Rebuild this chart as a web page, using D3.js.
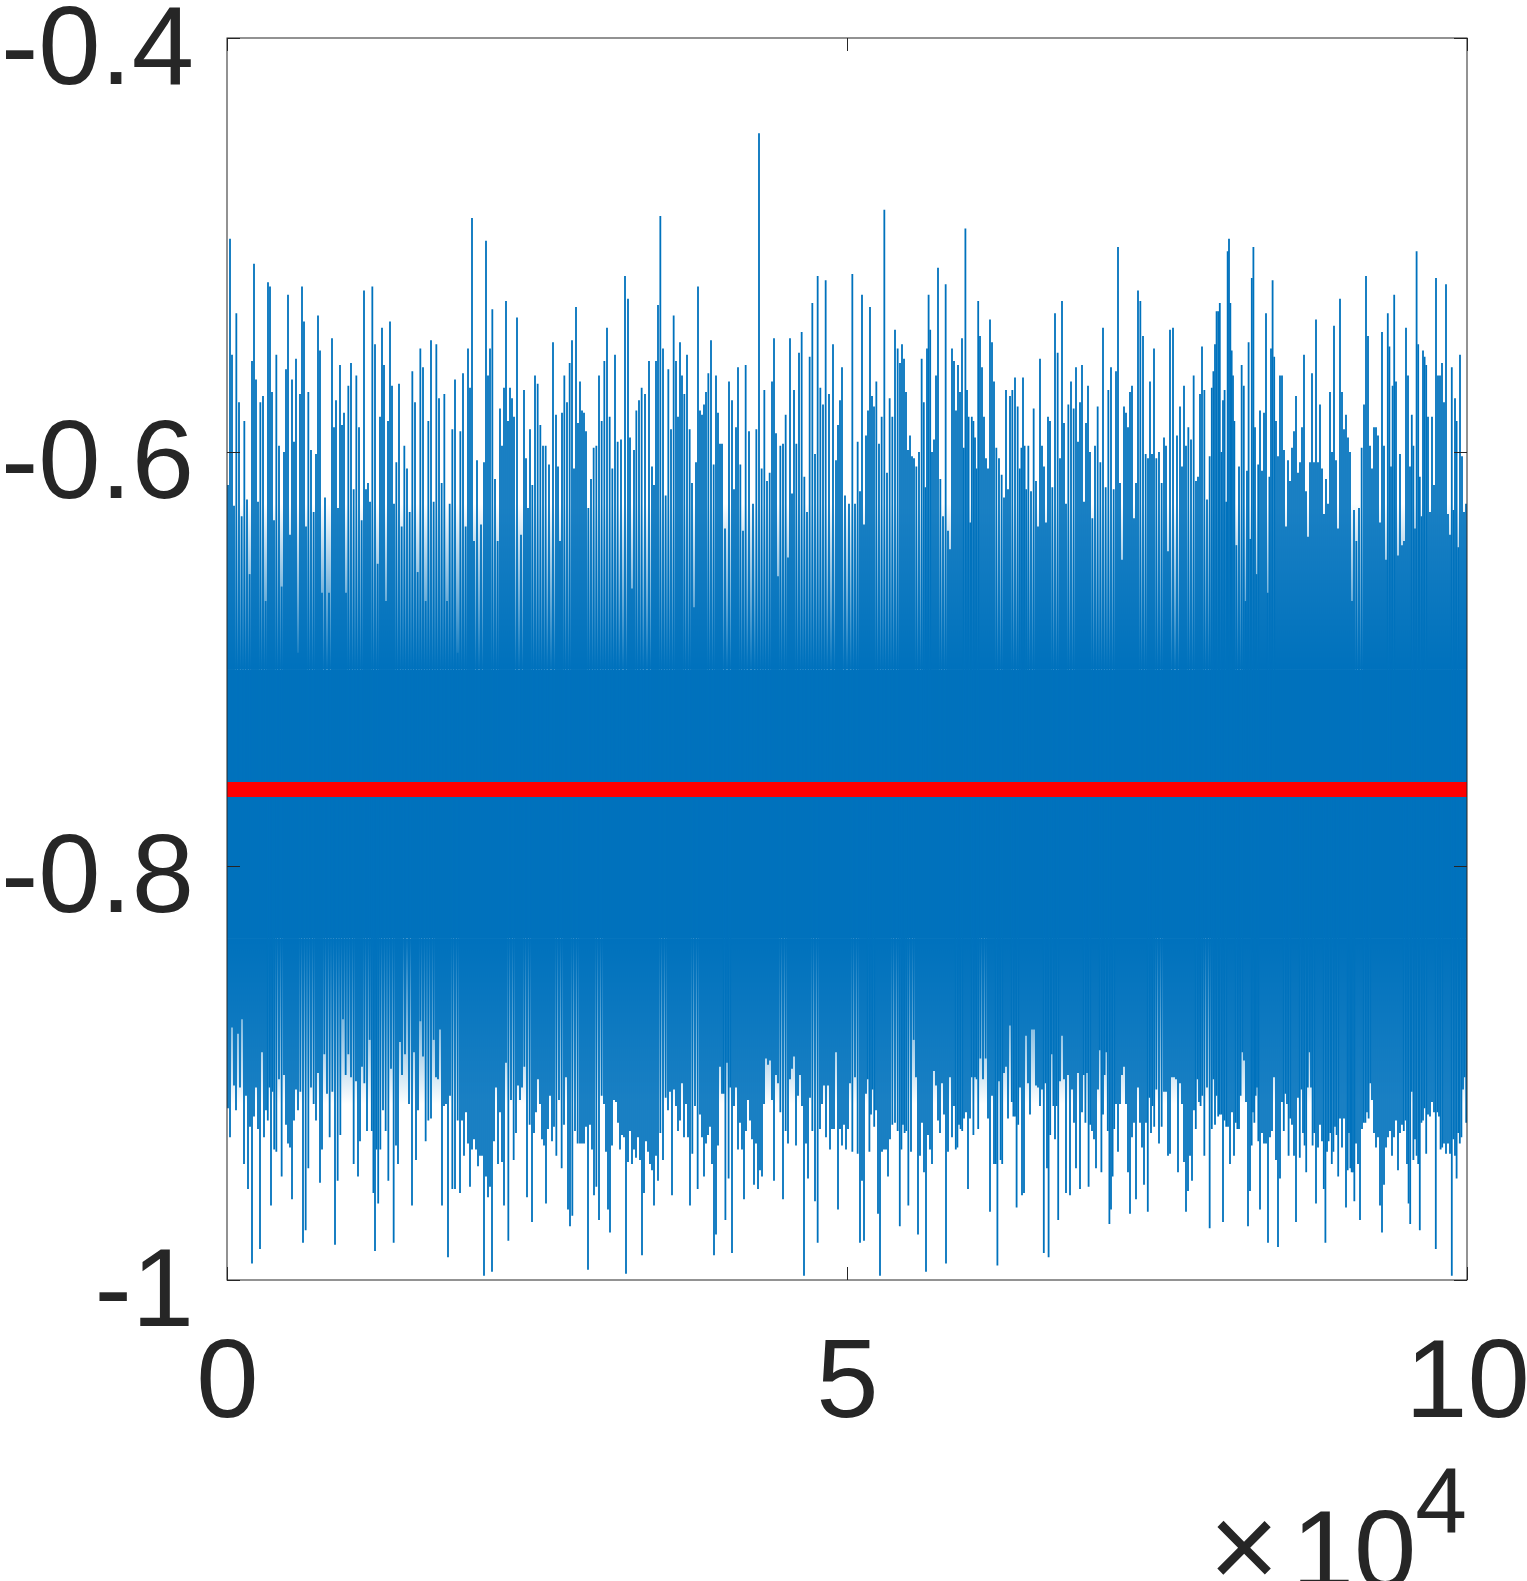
<!DOCTYPE html>
<html>
<head>
<meta charset="utf-8">
<script src="https://cdn.jsdelivr.net/npm/d3@7"></script>
<style>
  html, body { margin: 0; padding: 0; background: #ffffff; }
  svg { display: block; }
</style>
</head>
<body>
<svg id="chart" width="1527" height="1581"></svg>
<script>
// ---------------- data ----------------
// x axis in units of 1e4 samples
const xTicks = [0, 5, 10];
const xTickLabels = ["0", "5", "10"];
const yTicks = [-1, -0.8, -0.6, -0.4];
const yTickLabels = ["-1", "-0.8", "-0.6", "-0.4"];
const xDomain = [0, 10];
const yDomain = [-1, -0.4];
const exponentBase = "10";
const exponentPower = "4";

// upward excursions of the trace, grouped in 155 equal-width bins along x
const upperSpikes = [
[-0.616,-0.497,-0.553,-0.626],[-0.533,-0.576,-0.631],[-0.585,-0.623,-0.659],[-0.556,-0.509,-0.565,-0.624],[-0.576,-0.573,-0.672],
[-0.518,-0.520,-0.571,-0.633],[-0.553,-0.597,-0.665],[-0.600,-0.560,-0.524,-0.640],[-0.565,-0.595,-0.555,-0.697],[-0.572,-0.520,-0.537,-0.636],
[-0.571,-0.599,-0.629],[-0.601,-0.534,-0.551,-0.668],[-0.622,-0.668],[-0.545,-0.588,-0.575,-0.627],[-0.558,-0.587,-0.581,-0.668],
[-0.568,-0.557,-0.618],[-0.563,-0.588,-0.633],[-0.522,-0.618,-0.615,-0.624],[-0.520,-0.548,-0.654],[-0.583,-0.540,-0.558,-0.672],
[-0.585,-0.537,-0.568,-0.625],[-0.605,-0.567,-0.636],[-0.597,-0.608,-0.629],[-0.561,-0.576,-0.658],[-0.550,-0.559,-0.672],
[-0.585,-0.546,-0.624],[-0.548,-0.574,-0.615],[-0.572,-0.672,-0.625],[-0.589,-0.565,-0.697],[-0.590,-0.562,-0.636],
[-0.550,-0.569,-0.487,-0.643],[-0.604,-0.635],[-0.605,-0.498,-0.563,-0.550],[-0.531,-0.613,-0.643],[-0.579,-0.597,-0.569,-0.527],
[-0.585,-0.569,-0.574,-0.583],[-0.535,-0.640],[-0.570,-0.603,-0.627,-0.589],[-0.616,-0.563,-0.567],[-0.587,-0.597,-0.597],
[-0.606,-0.547],[-0.582,-0.607,-0.643,-0.581],[-0.563,-0.576,-0.557],[-0.546,-0.608,-0.530,-0.586],[-0.566,-0.580,-0.581,-0.590],
[-0.627,-0.613,-0.598],[-0.597,-0.563,-0.585],[-0.556,-0.540,-0.583],[-0.608,-0.553,-0.595],[-0.594,-0.515],
[-0.526,-0.593,-0.666,-0.599],[-0.580,-0.575,-0.569],[-0.572,-0.556],[-0.607,-0.616,-0.556,-0.529],[-0.486,-0.550,-0.621],
[-0.560,-0.589,-0.534],[-0.556,-0.583,-0.547,-0.563],[-0.572,-0.553,-0.589],[-0.615,-0.675,-0.605,-0.520],[-0.580,-0.582,-0.577,-0.571],
[-0.562,-0.546,-0.606],[-0.563,-0.581,-0.596,-0.596],[-0.637,-0.566],[-0.575,-0.618,-0.588,-0.559],[-0.606,-0.638,-0.558],
[-0.590,-0.625],[-0.589,-0.446,-0.608],[-0.570,-0.614,-0.610],[-0.566,-0.545,-0.591,-0.660],[-0.597,-0.596,-0.582],
[-0.651,-0.545,-0.620,-0.570],[-0.596,-0.552,-0.542],[-0.612,-0.629,-0.554],[-0.528,-0.601,-0.515],[-0.569,-0.577,-0.517],
[-0.572,-0.548],[-0.604,-0.587,-0.575,-0.559],[-0.621,-0.625],[-0.514,-0.625,-0.595],[-0.619,-0.524,-0.635,-0.592],
[-0.580,-0.530,-0.573,-0.578],[-0.566,-0.596,-0.583],[-0.483,-0.610,-0.574],[-0.583,-0.541,-0.550],[-0.557,-0.548,-0.555,-0.571],
[-0.599,-0.592,-0.602,-0.603],[-0.607,-0.600,-0.555],[-0.576,-0.617,-0.550,-0.524,-0.541],[-0.600,-0.594,-0.563,-0.511],[-0.613,-0.631,-0.519],
[-0.638,-0.647,-0.550,-0.556],[-0.580,-0.558,-0.571,-0.545],[-0.598,-0.492,-0.570,-0.583,-0.634],[-0.583,-0.585,-0.593,-0.608,-0.527],[-0.544,-0.559,-0.583,-0.603],
[-0.608,-0.536,-0.547,-0.566],[-0.598,-0.603,-0.611],[-0.622,-0.570,-0.618,-0.573],[-0.570,-0.564,-0.578],[-0.608,-0.598,-0.564,-0.597,-0.618],
[-0.597,-0.619,-0.579],[-0.614,-0.636,-0.555,-0.597],[-0.607,-0.634,-0.583,-0.585],[-0.617,-0.533,-0.552],[-0.603,-0.527,-0.586,-0.625],
[-0.577,-0.566,-0.579],[-0.559,-0.595,-0.576,-0.558],[-0.624,-0.586,-0.568,-0.600],[-0.632,-0.597,-0.578],[-0.605,-0.540,-0.617],
[-0.570,-0.559,-0.618],[-0.561,-0.501,-0.615,-0.652],[-0.578,-0.581,-0.588,-0.571],[-0.568,-0.632,-0.615,-0.522],[-0.527,-0.544,-0.601],
[-0.603,-0.566,-0.601,-0.550],[-0.603,-0.600,-0.615],[-0.593,-0.597,-0.648,-0.541],[-0.540,-0.592],[-0.578,-0.607,-0.568,-0.597],
[-0.588,-0.594,-0.563],[-0.614,-0.612,-0.572,-0.549],[-0.570,-0.623,-0.602],[-0.569,-0.561,-0.548,-0.532,-0.532],[-0.528,-0.600,-0.575,-0.570,-0.624],
[-0.503,-0.497,-0.528,-0.551,-0.563,-0.585],[-0.645,-0.607,-0.558],[-0.568,-0.672,-0.609,-0.547,-0.642],[-0.516,-0.501,-0.588,-0.659,-0.606],[-0.580,-0.609,-0.581,-0.533],
[-0.668,-0.612,-0.550,-0.517,-0.554],[-0.585,-0.602,-0.563,-0.563],[-0.599,-0.636,-0.604,-0.614],[-0.598,-0.590,-0.573,-0.610],[-0.605,-0.588,-0.553,-0.619],
[-0.641,-0.605,-0.562,-0.605],[-0.536,-0.605,-0.577,-0.608],[-0.630,-0.613,-0.625,-0.571],[-0.600,-0.539,-0.604,-0.637],[-0.526,-0.571,-0.589,-0.582],
[-0.593,-0.600,-0.672,-0.628],[-0.643,-0.627,-0.598],[-0.577,-0.515,-0.544,-0.597],[-0.608,-0.588,-0.588,-0.592],[-0.634,-0.542,-0.597,-0.652],
[-0.533,-0.549,-0.607,-0.568,-0.524],[-0.566,-0.650,-0.601,-0.645],[-0.643,-0.540,-0.563,-0.607],[-0.582,-0.597,-0.637,-0.503,-0.548],[-0.612,-0.631,-0.551,-0.554,-0.558],
[-0.583,-0.629,-0.583,-0.616],[-0.516,-0.563,-0.563,-0.557],[-0.576,-0.519,-0.630,-0.640],[-0.559,-0.628,-0.574,-0.585,-0.646],[-0.553,-0.602,-0.629,-0.625]
];

// downward excursions of the trace, same bins
const lowerSpikes = [
[-0.917,-0.931,-0.878,-0.906],[-0.918,-0.881,-0.907,-0.874],[-0.944,-0.911,-0.956,-0.926],[-0.992,-0.921,-0.907,-0.927],[-0.985,-0.890,-0.931,-0.918],
[-0.923,-0.907,-0.964,-0.909,-0.937],[-0.938,-0.903,-0.950],[-0.901,-0.925,-0.934,-0.936],[-0.961,-0.923,-0.908,-0.918],[-0.909,-0.982,-0.976],
[-0.946,-0.907,-0.915],[-0.923,-0.900,-0.953,-0.937],[-0.891,-0.910,-0.931],[-0.909,-0.983,-0.952],[-0.930,-0.874,-0.901],
[-0.891,-0.902,-0.944],[-0.904,-0.950,-0.933,-0.897],[-0.905,-0.928,-0.884],[-0.928,-0.958,-0.986,-0.937,-0.963],[-0.937,-0.918,-0.928],
[-0.952,-0.898,-0.982],[-0.935,-0.944,-0.885,-0.901],[-0.891,-0.915],[-0.964,-0.890,-0.942,-0.918],[-0.875,-0.892,-0.933],
[-0.923,-0.922,-0.884],[-0.902,-0.903,-0.879,-0.964],[-0.916,-0.915,-0.989,-0.911],[-0.956,-0.956,-0.923],[-0.958,-0.923,-0.940,-0.919],
[-0.934,-0.955,-0.937,-0.932],[-0.937,-0.945,-0.940,-0.940],[-0.998,-0.950,-0.960,-0.955],[-0.996,-0.933,-0.907,-0.944],[-0.919,-0.943,-0.964,-0.895],
[-0.981,-0.913,-0.942],[-0.929,-0.906,-0.913,-0.907],[-0.897,-0.960,-0.925],[-0.972,-0.929,-0.919,-0.903],[-0.915,-0.932,-0.935,-0.963],
[-0.927,-0.911,-0.933,-0.926],[-0.940,-0.913,-0.946],[-0.925,-0.902,-0.966,-0.974],[-0.969,-0.928,-0.934],[-0.934,-0.934,-0.934,-0.926],
[-0.995,-0.925,-0.937,-0.959],[-0.955,-0.971,-0.911],[-0.915,-0.938,-0.966,-0.977],[-0.935,-0.913,-0.914,-0.924],[-0.937,-0.930,-0.931,-0.997],
[-0.943,-0.928,-0.944,-0.937],[-0.941,-0.931,-0.942,-0.988],[-0.958,-0.933,-0.938,-0.944],[-0.947,-0.964,-0.940,-0.952],[-0.929,-0.942,-0.912],
[-0.918,-0.909,-0.959,-0.908],[-0.916,-0.928,-0.923,-0.905],[-0.931,-0.915,-0.931,-0.964],[-0.939,-0.916,-0.956],[-0.920,-0.931,-0.950,-0.934],
[-0.930,-0.926,-0.944,-0.988],[-0.978,-0.935,-0.897,-0.910],[-0.910,-0.971,-0.895,-0.951,-0.907],[-0.987,-0.916,-0.907,-0.937],[-0.924,-0.937,-0.961,-0.928],
[-0.913,-0.923,-0.932,-0.954],[-0.934,-0.956,-0.947,-0.950],[-0.915,-0.893,-0.896,-0.894],[-0.913,-0.952,-0.901,-0.905],[-0.919,-0.961,-0.928],
[-0.934,-0.903,-0.898,-0.892],[-0.935,-0.911,-0.901,-0.916],[-0.998,-0.934,-0.951,-0.912],[-0.928,-0.962,-0.982],[-0.927,-0.915,-0.906,-0.931],
[-0.906,-0.937,-0.927,-0.927],[-0.890,-0.966,-0.927,-0.935],[-0.925,-0.937,-0.927,-0.905],[-0.938,-0.902,-0.939],[-0.982,-0.952,-0.981,-0.910],
[-0.903,-0.938,-0.920,-0.908,-0.926],[-0.918,-0.968,-0.998,-0.938],[-0.937,-0.937,-0.950,-0.932],[-0.925,-0.924,-0.928],[-0.974,-0.937,-0.925,-0.929,-0.928],
[-0.964,-0.938,-0.884],[-0.902,-0.978,-0.940,-0.924],[-0.948,-0.996,-0.930,-0.937],[-0.944,-0.899,-0.906,-0.923],[-0.929,-0.905,-0.920,-0.992],
[-0.938,-0.902,-0.931,-0.916],[-0.937,-0.936,-0.925,-0.927,-0.928],[-0.922,-0.919,-0.956,-0.922],[-0.902,-0.930,-0.902,-0.903,-0.927],[-0.893,-0.903,-0.893],
[-0.922,-0.967,-0.911,-0.944],[-0.944,-0.993,-0.904,-0.942,-0.944],[-0.900,-0.897,-0.922,-0.877],[-0.914,-0.921,-0.921,-0.965,-0.925],[-0.907,-0.959,-0.958,-0.882],
[-0.905,-0.920,-0.879,-0.879],[-0.906,-0.907,-0.916,-0.908],[-0.987,-0.905,-0.946,-0.989,-0.930],[-0.891,-0.916,-0.932,-0.916,-0.971],[-0.904,-0.882,-0.903,-0.958],
[-0.901,-0.959,-0.908,-0.924],[-0.946,-0.900,-0.956,-0.919],[-0.901,-0.924,-0.900,-0.955,-0.925],[-0.928,-0.932,-0.946,-0.908],[-0.889,-0.948,-0.920,-0.901,-0.890],
[-0.928,-0.973,-0.966,-0.950,-0.927],[-0.915,-0.938,-0.915,-0.901],[-0.897,-0.915,-0.948,-0.968],[-0.931,-0.924,-0.961,-0.907],[-0.924,-0.936,-0.954,-0.924],
[-0.967,-0.912,-0.929,-0.916,-0.926],[-0.908,-0.934,-0.926],[-0.909,-0.909,-0.940,-0.939],[-0.902,-0.902,-0.903,-0.948],[-0.905,-0.915,-0.943,-0.967],
[-0.957,-0.940,-0.952,-0.918],[-0.927,-0.903,-0.914,-0.916,-0.911],[-0.940,-0.907,-0.975],[-0.927,-0.903,-0.925,-0.911,-0.921],[-0.920,-0.920,-0.972,-0.923,-0.926],
[-0.926,-0.944,-0.919,-0.940],[-0.924,-0.927,-0.927,-0.911,-0.890],[-0.894,-0.914,-0.974,-0.957],[-0.935,-0.919,-0.924,-0.911,-0.907,-0.933],[-0.966,-0.929,-0.934,-0.934],
[-0.982,-0.931,-0.928,-0.902],[-0.942,-0.984,-0.951,-0.914],[-0.928,-0.910,-0.915,-0.940,-0.922],[-0.925,-0.940,-0.972,-0.912],[-0.941,-0.908,-0.929,-0.935,-0.948],
[-0.907,-0.890,-0.907,-0.935,-0.929],[-0.963,-0.936,-0.925,-0.933],[-0.956,-0.982,-0.938,-0.933,-0.929],[-0.944,-0.938,-0.926,-0.930,-0.950],[-0.922,-0.936,-0.922,-0.965],
[-0.947,-0.929,-0.946,-0.948,-0.948,-0.962],[-0.934,-0.944,-0.971,-0.927],[-0.924,-0.924,-0.919,-0.922,-0.905],[-0.913,-0.929,-0.936,-0.931],[-0.964,-0.977,-0.954,-0.936],
[-0.931,-0.928,-0.940,-0.931],[-0.923,-0.947,-0.929,-0.925],[-0.928,-0.923,-0.944,-0.963,-0.973],[-0.909,-0.942,-0.932,-0.940,-0.944],[-0.976,-0.924,-0.923,-0.917,-0.939],
[-0.920,-0.921,-0.914,-0.919],[-0.985,-0.919,-0.921,-0.937,-0.936],[-0.934,-0.939,-0.934,-0.939],[-0.998,-0.932,-0.940,-0.951,-0.929],[-0.934,-0.931,-0.908,-0.902,-0.924]
];

// band that the trace fills solidly, and the outer limits where that fill thins out
const coreBand = [-0.705, -0.835];
const thinningLimits = [-0.625, -0.915];

// mean level (red line)
const meanLevel = -0.763;

// ---------------- layout & style ----------------
const plot = { left: 227, right: 1467, top: 38, bottom: 1280 };
const BLUE = "#0072BD";
const RED = "#FF0000";
const AXIS = "#262626";
const FONT = "'Liberation Sans', Arial, Helvetica, sans-serif";
const FS = 112;

const svg = d3.select("#chart");

const xS = d3.scaleLinear().domain(xDomain).range([plot.left, plot.right]);
const yS = d3.scaleLinear().domain(yDomain).range([plot.bottom, plot.top]);

const defs = svg.append("defs");
defs.append("clipPath").attr("id", "clip")
  .append("rect")
  .attr("x", plot.left).attr("y", plot.top)
  .attr("width", plot.right - plot.left).attr("height", plot.bottom - plot.top);

function fadeGradient(id, yFrom, yTo) {
  const gr = defs.append("linearGradient").attr("id", id)
    .attr("gradientUnits", "userSpaceOnUse")
    .attr("x1", 0).attr("x2", 0).attr("y1", yFrom).attr("y2", yTo);
  gr.append("stop").attr("offset", 0).attr("stop-color", BLUE).attr("stop-opacity", 0);
  gr.append("stop").attr("offset", 1).attr("stop-color", BLUE).attr("stop-opacity", 1);
}
fadeGradient("fadeTop", yS(thinningLimits[0]), yS(coreBand[0]));
fadeGradient("fadeBottom", yS(thinningLimits[1]), yS(coreBand[1]));

const gPlot = svg.append("g").attr("clip-path", "url(#clip)");
const x0 = xS(xDomain[0]), wAll = xS(xDomain[1]) - xS(xDomain[0]);

// solid core of the trace, with its thinning edges
gPlot.append("rect").attr("x", x0).attr("width", wAll)
  .attr("y", yS(coreBand[0])).attr("height", yS(coreBand[1]) - yS(coreBand[0]))
  .attr("fill", BLUE);
gPlot.append("rect").attr("x", x0).attr("width", wAll)
  .attr("y", yS(thinningLimits[0])).attr("height", yS(coreBand[0]) - yS(thinningLimits[0]))
  .attr("fill", "url(#fadeTop)");
gPlot.append("rect").attr("x", x0).attr("width", wAll)
  .attr("y", yS(coreBand[1])).attr("height", yS(thinningLimits[1]) - yS(coreBand[1]))
  .attr("fill", "url(#fadeBottom)");

// excursions: vertical strokes from the mean level out to each spike value
const nBins = upperSpikes.length;
const binW = (xDomain[1] - xDomain[0]) / nBins;
function flatten(bins) {
  const out = [];
  bins.forEach((vals, i) => {
    vals.forEach((v, j) => {
      out.push({ x: xDomain[0] + (i + (j + 0.5) / vals.length) * binW, v });
    });
  });
  return out;
}
const spikes = flatten(upperSpikes).concat(flatten(lowerSpikes));
gPlot.selectAll("line.spike").data(spikes).join("line").attr("class", "spike")
  .attr("x1", d => xS(d.x)).attr("x2", d => xS(d.x))
  .attr("y1", yS(meanLevel)).attr("y2", d => yS(d.v))
  .attr("stroke", BLUE).attr("stroke-width", 1.8);

// mean line
gPlot.append("line")
  .attr("x1", xS(xDomain[0])).attr("x2", xS(xDomain[1]))
  .attr("y1", yS(meanLevel)).attr("y2", yS(meanLevel))
  .attr("stroke", RED).attr("stroke-width", 15);

// ---------------- axes ----------------
const TICK = 13;
function styleAxis(sel) {
  sel.select(".domain").remove();
  sel.selectAll(".tick line").attr("stroke", AXIS).attr("stroke-width", 1);
  sel.selectAll(".tick text").attr("fill", AXIS).style("font-family", FONT).style("font-size", FS + "px");
}

const axLeft = svg.append("g").attr("transform", `translate(${plot.left},0)`)
  .call(d3.axisLeft(yS).tickValues(yTicks).tickFormat((d, i) => yTickLabels[i])
    .tickSize(-TICK).tickPadding(33));
styleAxis(axLeft);
axLeft.selectAll(".tick text").attr("dy", "0.41em");

const axRight = svg.append("g").attr("transform", `translate(${plot.right},0)`)
  .call(d3.axisRight(yS).tickValues(yTicks).tickFormat("").tickSize(-TICK));
styleAxis(axRight);

const axBottom = svg.append("g").attr("transform", `translate(0,${plot.bottom})`)
  .call(d3.axisBottom(xS).tickValues(xTicks).tickFormat((d, i) => xTickLabels[i])
    .tickSize(-TICK).tickPadding(57));
styleAxis(axBottom);

const axTop = svg.append("g").attr("transform", `translate(0,${plot.top})`)
  .call(d3.axisTop(xS).tickValues(xTicks).tickFormat("").tickSize(-TICK));
styleAxis(axTop);

// axes box
svg.append("rect")
  .attr("x", plot.left).attr("y", plot.top)
  .attr("width", plot.right - plot.left).attr("height", plot.bottom - plot.top)
  .attr("fill", "none").attr("stroke", AXIS).attr("stroke-width", 1);

// exponent label  ×10^4
const ex = svg.append("g").attr("fill", AXIS).style("font-family", FONT);
ex.append("text").attr("x", 1244).attr("y", 1588).attr("text-anchor", "middle")
  .style("font-size", "120px").text("\u00D7");
ex.append("text").attr("x", 1354).attr("y", 1588).attr("text-anchor", "middle")
  .style("font-size", FS + "px").text(exponentBase);
ex.append("text").attr("x", 1441).attr("y", 1532).attr("text-anchor", "middle")
  .style("font-size", "93px").text(exponentPower);
</script>
</body>
</html>
